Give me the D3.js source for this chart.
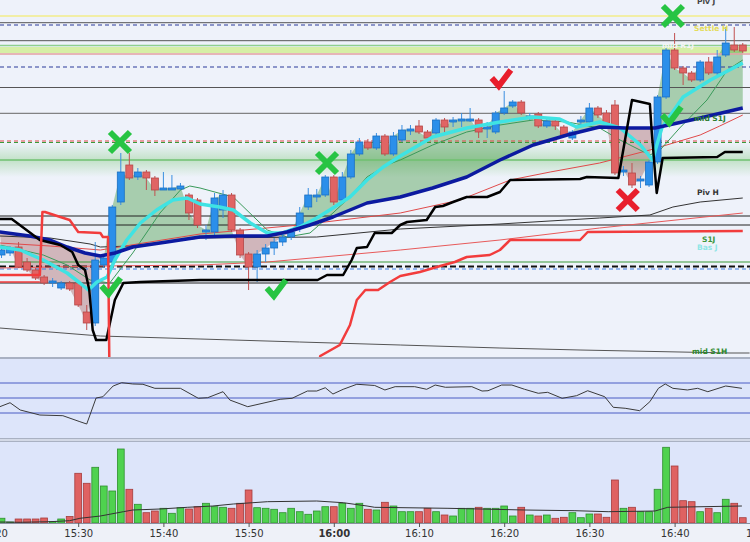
<!DOCTYPE html>
<html><head><meta charset="utf-8">
<script src="https://cdn.jsdelivr.net/npm/d3@7/dist/d3.min.js"></script>
<style>body{margin:0;background:#fff}svg{display:block}</style>
</head><body>
<svg id="c" width="750" height="542"></svg>
<script>
// ---------------- DATA ----------------
// candle minute offsets from 15:20
const candleT = d3.range(1, 89);
const openP  = [4745,4747,4753,4738,4730,4723,4717,4712,4717,4717,4688,4677,4735,4738,4798,4835,4823,4828,4822,4810,4810,4811,4805,4800,4768,4768,4790,4805,4770,4746,4733,4746,4752,4758,4763,4773,4793,4803,4805,4823,4800,4823,4846,4858,4852,4864,4846,4860,4869,4874,4868,4867,4880,4878,4879,4879,4880,4871,4868,4887,4894,4898,4882,4886,4874,4879,4873,4862,4878,4878,4892,4887,4895,4828,4827,4819,4815,4838,4903,4950,4932,4927,4920,4938,4927,4945,4955,4955];
const highP  = [4753,4754,4758,4742,4732,4725,4722,4719,4719,4718,4695,4758,4745,4795,4847,4847,4832,4830,4824,4828,4825,4817,4807,4802,4775,4807,4810,4807,4772,4748,4750,4756,4762,4767,4772,4793,4812,4811,4825,4825,4828,4850,4862,4861,4867,4866,4868,4875,4875,4880,4870,4882,4882,4883,4887,4892,4882,4878,4889,4909,4900,4900,4887,4888,4881,4881,4875,4870,4884,4897,4894,4890,4900,4834,4837,4824,4840,4905,4952,4967,4934,4929,4940,4943,4950,4973,4973,4957];
const lowP   = [4742,4744,4732,4728,4720,4715,4713,4710,4709,4693,4670,4674,4732,4735,4795,4820,4820,4810,4804,4810,4810,4810,4780,4772,4760,4765,4782,4768,4742,4710,4718,4738,4745,4754,4760,4768,4790,4798,4803,4795,4798,4821,4844,4850,4850,4844,4844,4858,4865,4866,4860,4865,4867,4873,4873,4878,4862,4862,4866,4885,4892,4885,4880,4872,4872,4870,4863,4860,4874,4876,4882,4875,4825,4824,4812,4812,4813,4836,4901,4930,4915,4918,4918,4925,4925,4943,4948,4947];
const closeP = [4750,4752,4733,4730,4722,4717,4719,4717,4711,4695,4677,4740,4742,4793,4828,4822,4828,4822,4810,4812,4812,4814,4787,4775,4770,4802,4805,4770,4745,4733,4746,4752,4758,4763,4768,4787,4805,4805,4823,4798,4823,4846,4858,4852,4864,4846,4864,4870,4871,4868,4862,4880,4873,4880,4881,4881,4868,4873,4887,4892,4898,4887,4884,4874,4879,4874,4865,4868,4880,4892,4885,4877,4827,4830,4815,4821,4838,4903,4950,4932,4927,4920,4938,4927,4943,4957,4950,4949];
const volume = [95,20,80,80,80,100,30,80,130,994,794,1114,740,640,1480,674,374,206,240,294,194,306,280,326,394,326,314,294,394,660,306,294,274,206,294,226,174,240,326,326,394,294,394,274,260,414,340,226,226,226,294,226,160,140,294,294,314,294,294,340,140,314,160,140,160,94,114,206,106,180,180,114,860,294,314,226,226,674,1514,1140,446,426,226,294,206,474,394,106];

// moving averages (minute, price)
const fastT = [0.8,3.2,5.9,8.7,10.2,11.2,12.2,13.4,14.3,15.7,17.3,19.2,21.1,22.8,24.3,26.6,28.2,30.2,32.2,34.0,36.0,38.0,39.9,41.9,43.9,45.8,47.8,51.6,55.6,59.5,63.4,66.5,68.5,71.2,73.6,76.0,77.4,78.5,81.0,84.2,88.0];
const fastV = [4753,4750,4740,4727,4717,4710,4718,4723,4740,4760,4777,4790,4800,4802,4796,4793,4790,4777,4767,4767,4773,4782,4792,4803,4820,4833,4844,4863,4872,4878,4883,4881,4873,4878,4872,4855,4840,4872,4903,4920,4937];
const slowT = [0.8,4.3,6.7,8.7,10.8,12.6,14.3,16.4,20.4,24.3,28.2,32.2,34.5,37.2,39.9,41.9,43.9,47.8,51.6,55.6,59.5,63.4,67.4,71.2,74.2,77.7,83.0,88.0];
const slowV = [4768,4764,4760,4753,4747,4744,4747,4753,4758,4763,4764,4764,4768,4775,4783,4790,4797,4803,4812,4823,4840,4855,4865,4873,4872,4872,4882,4892];
const midT = [0.8,5.9,8.7,11.4,13.7,16.4,19.6,22.0,23.1,24.3,28.2,32.2,34.5,37.2,39.9,41.9,43.9,46.2,47.8,51.6,55.6,59.5,63.4,67.4,71.2,73.6,77.1,78.3,80.6,83.8,86.2,88.0];
const midV = [4755,4745,4735,4720,4717,4747,4787,4810,4814,4812,4803,4770,4763,4767,4787,4803,4823,4835,4840,4855,4868,4875,4880,4878,4872,4860,4845,4850,4872,4900,4930,4940];
const longT = [0.8,6.7,12.6,18.4,24.3,36.0,47.8,54.8,60.7,65.4,71.2,77.1,83.0,85.3,88.0];
const longV = [4757,4754,4750,4758,4766,4775,4787,4800,4820,4828,4837,4850,4865,4874,4885];
const baseT = [0.8,12.6,24.3,32.2,47.8,59.5,71.2,88.0];
const baseV = [4732,4734,4735,4738,4750,4760,4772,4787];
const darkT = [0.8,6.7,11.4,12.6,16.1,24.3,38.0,47.8,59.5,71.2,77.1,79.8,83.0,88.0];
const darkV = [4764,4762,4756,4753,4754,4762,4763,4771,4776,4782,4785,4793,4798,4802];

// trailing stops (minute, price)
const stopBT = [0.8,2.2,5.5,7.9,9.3,10.0,10.8,11.3,11.7,12.1,13.3,14.3,15.3,17.3,24.3,38.1,39.2,41.1,42.1,42.7,43.9,44.8,46.8,47.8,48.6,50.9,51.9,52.8,54.0,55.6,58.0,59.5,60.7,68.9,69.7,73.4,75.0,77.1,77.3,77.9,78.6,85.0,85.9,88.0];
const stopBV = [4781,4781,4760,4755,4748,4735,4730,4710,4670,4660,4660,4700,4717,4718,4720,4720,4725,4725,4740,4752,4753,4767,4767,4775,4778,4780,4793,4794,4798,4803,4803,4808,4820,4821,4823,4822,4900,4896,4870,4807,4842,4843,4848,4848];
const stopRT = [0.8,5.5,5.8,6.1,7.9,9.0,10.0,12.6,12.9,13.5,13.7,38.1,38.4,40.7,41.9,42.7,43.7,45.2,46.6,47.8,50.1,52.5,54.2,55.6,58.3,59.5,60.7,68.9,69.8,88.0];
const stopRV = [4725,4725,4788,4788,4783,4780,4768,4767,4763,4763,4600,4600,4644,4655,4675,4700,4710,4710,4718,4724,4728,4734,4738,4743,4745,4750,4760,4760,4768,4769];
const stopR2T = [0.8,5.5];
const stopR2V = [4718,4718];
const midS1HT = [0.8,12.6,24.3,36.0,47.8,59.5,68.9,77.7,86.5,88.8];
const midS1HV = [4672,4664,4661,4658,4655,4652,4650,4648.5,4647,4647];

// oscillator (minute, value 0-100)
const oscT = [0.8,2.0,3.2,5.5,8.2,10.2,11.0,12.1,12.9,14.1,15.1,16.4,17.6,19.0,22.0,24.1,25.2,27.0,27.8,29.9,33.7,35.1,36.9,38.0,39.0,39.9,41.1,42.7,44.8,46.0,47.2,49.5,50.9,51.9,53.1,56.2,57.4,58.1,59.7,60.9,62.4,64.0,65.1,66.8,68.5,69.8,71.8,72.8,74.2,75.9,77.1,78.1,78.9,79.8,81.5,82.7,83.9,86.0,87.9];
const oscV = [38.4,43.7,34.0,27.3,26.4,18.4,15.3,50.0,51.7,66.0,70.4,68.7,68.3,62.9,62.9,49.6,50.4,58.4,47.3,38.4,48.3,49.6,59.3,59.3,63.7,55.3,61.6,68.3,66.7,60.7,65.1,65.1,61.6,67.3,64.3,65.1,59.3,59.7,67.3,67.3,61.6,56.3,57.6,49.6,53.1,59.7,51.7,37.6,36.3,33.1,45.1,62.9,68.7,62.9,60.7,62.9,58.4,66.0,62.9];
const oscLevels = [70, 50, 30];

// volume average (minute, volume)
const vmaT = [0.8,3.2,6.7,9.0,10.2,12.6,15.3,16.4,19.6,22.8,25.8,28.2,30.5,32.2,38.0,41.1,43.9,44.8,53.4,62.4,68.3,72.2,77.7,79.2,87.9];
const vmaV = [20,14,26,46,94,140,226,260,280,314,340,380,406,426,440,406,340,314,294,260,246,226,240,314,340];

// horizontal levels
const levelNames  = ["settleH","pivJ","r1Dash","r1","midR1Jtop","midR1Jbot","r1Dash2","lvl88","lvl113","redDash","greenDash","midS1J","lvl216","lvl225","s1J","basJDash","basJBlue","lvl283"];
const levelValues = [4984,4977.3,4975,4959.3,4954.5,4946,4933,4912.5,4886.7,4859,4857.5,4840,4784,4775,4738,4733.5,4731,4717];
const bandLow = 4947, bandHigh = 4953;

// labels on the right
const labelText  = ["Piv J","Settle H","mid R1J","mid S1J","Piv H","S1J","Bas J","mid S1H"];
const labelPrice = [4996,4969,4952,4879,4805,4758,4750,4646];

// signal markers
const markT = [14.9,39.2,79.8,74.5,13.8,33.2,79.6,59.6];
const markP = [4858,4837,4984,4800,4713,4711,4884,4921];
const markKind = ["x","x","x","x","check","check","check","check"];
const markSide = ["buy","buy","buy","sell","buy","buy","buy","sell"];

// ---------------- RENDER ----------------
const W = 750;
const base = new Date(2024,0,2,15,20,0);
const T = m => new Date(base.getTime() + m*60000);
const x = d3.scaleTime().domain([T(0.8216), T(88.85)]).range([0, W]);
const yP = d3.scaleLinear().domain([4643, 5000]).range([357, 0]);
const yO = d3.scaleLinear().domain([0, 100]).range([435.5, 360.5]);
const yV = d3.scaleLinear().domain([0, 1620]).range([523, 442]);

const svg = d3.select("#c");
const defs = svg.append("defs");
defs.append("clipPath").attr("id","mainClip").append("rect").attr("width",W).attr("height",357);
const gr = defs.append("linearGradient").attr("id","gband").attr("x1",0).attr("x2",0).attr("y1",0).attr("y2",1);
gr.append("stop").attr("offset","0%").attr("stop-color","#9fd49f").attr("stop-opacity",0);
gr.append("stop").attr("offset","50%").attr("stop-color","#9fd49f").attr("stop-opacity",0.55);
gr.append("stop").attr("offset","100%").attr("stop-color","#9fd49f").attr("stop-opacity",0);

svg.append("rect").attr("width",W).attr("height",357).attr("fill","#eef2fa");
svg.append("rect").attr("y",357).attr("width",W).attr("height",2).attr("fill","#a9b1c2");
svg.append("rect").attr("y",359).attr("width",W).attr("height",79).attr("fill","#dde5fa");
svg.append("rect").attr("y",438).attr("width",W).attr("height",4).attr("fill","#d3d9e6");
svg.append("line").attr("x1",0).attr("x2",W).attr("y1",438.5).attr("y2",438.5).attr("stroke","#a9b1c2");
svg.append("line").attr("x1",0).attr("x2",W).attr("y1",441.5).attr("y2",441.5).attr("stroke","#a9b1c2");
svg.append("rect").attr("y",442).attr("width",W).attr("height",81).attr("fill","#dde5fa");
svg.append("rect").attr("y",523).attr("width",W).attr("height",19).attr("fill","#eef1f8");

const main = svg.append("g").attr("clip-path","url(#mainClip)");

// bands
main.append("rect").attr("x",0).attr("width",W).attr("y",yP(4840+17)).attr("height",yP(4840-17)-yP(4840+17)).attr("fill","url(#gband)");
main.append("rect").attr("x",0).attr("width",W).attr("y",yP(bandHigh)).attr("height",yP(bandLow)-yP(bandHigh)).attr("fill","#d6efa6");

// fill between close and slow MA
const pt = (t,v) => [x(T(t)), yP(v)];
const closePts = candleT.map((t,i)=>pt(t,closeP[i]));
const slowPts = slowT.map((t,i)=>pt(t,slowV[i]));
const poly = closePts.concat(slowPts.slice().reverse());
const polyD = "M" + poly.map(p=>p.join(",")).join("L") + "Z";
const aboveD = "M" + slowPts.map(p=>p.join(",")).join("L") + `L${slowPts[slowPts.length-1][0]+20},-20L${slowPts[0][0]-20},-20Z`;
const belowD = "M" + slowPts.map(p=>p.join(",")).join("L") + `L${slowPts[slowPts.length-1][0]+20},400L${slowPts[0][0]-20},400Z`;
defs.append("clipPath").attr("id","above").append("path").attr("d",aboveD);
defs.append("clipPath").attr("id","below").append("path").attr("d",belowD);
main.append("path").attr("d",polyD).attr("fill","rgb(60,150,60)").attr("fill-opacity",0.4).attr("fill-rule","evenodd").attr("clip-path","url(#above)");
main.append("path").attr("d",polyD).attr("fill","rgb(150,60,60)").attr("fill-opacity",0.33).attr("fill-rule","evenodd").attr("clip-path","url(#below)");

// levels
const levelStyle = {
  settleH:["#f2ec8a",1.5,null], pivJ:["#555",1,null], r1Dash:["#2a3a9a",1,"4,3"], r1:["#555",1,null],
  midR1Jtop:["#8fd08f",1.5,null], midR1Jbot:["#e3a0a0",1.5,null], r1Dash2:["#2a3a9a",1,"4,3"],
  lvl88:["#555",1,null], lvl113:["#666",1,null], redDash:["#e04848",1,"4,3"], greenDash:["#3a9a3a",1,"4,3"],
  midS1J:["#70c070",1.5,null], lvl216:["#222",1,null], lvl225:["#222",1,null], s1J:["#3a9a3a",1,null],
  basJDash:["#111",2,"6,3"], basJBlue:["#3a7ae0",1,"4,3"], lvl283:["#222",1,null]
};
levelNames.forEach((n,i)=>{
  const s = levelStyle[n];
  const l = main.append("line").attr("x1",0).attr("x2",W).attr("y1",yP(levelValues[i])).attr("y2",yP(levelValues[i]))
    .attr("stroke",s[0]).attr("stroke-width",s[1]);
  if (s[2]) l.attr("stroke-dasharray",s[2]);
});

const line = d3.line().x(d=>x(T(d[0]))).y(d=>yP(d[1]));
const zip = (a,b)=>a.map((t,i)=>[t,b[i]]);
const drawLine = (g,ts,vs,color,w)=>g.append("path").attr("d",line(zip(ts,vs))).attr("fill","none").attr("stroke",color).attr("stroke-width",w).attr("stroke-linejoin","round");

drawLine(main,midS1HT,midS1HV,"#555",1);
drawLine(main,baseT,baseV,"#e85a5a",1);
drawLine(main,darkT,darkV,"#333",1);
drawLine(main,longT,longV,"#e04a4a",1);
drawLine(main,midT,midV,"#3a9a5a",1);

// candles
const cg = main.append("g");
candleT.forEach((t,i)=>{
  const up = closeP[i] >= openP[i];
  const cx = x(T(t));
  const stroke = up ? "#1b6fc2" : "#b44848";
  const fill = up ? "#2b8fea" : "#e06464";
  cg.append("line").attr("x1",cx).attr("x2",cx).attr("y1",yP(highP[i])).attr("y2",yP(lowP[i])).attr("stroke",up?"#3a8ee0":"#c05050").attr("stroke-width",1);
  const y1 = yP(Math.max(openP[i],closeP[i])), y2 = yP(Math.min(openP[i],closeP[i]));
  cg.append("rect").attr("x",cx-3.5).attr("width",7).attr("y",y1).attr("height",Math.max(1,y2-y1)).attr("fill",fill).attr("stroke",stroke).attr("stroke-width",0.8);
});

drawLine(main,fastT,fastV,"#3fe3e3",3.5);
drawLine(main,slowT,slowV,"#0c1aa0",3.5);
drawLine(main,stopBT,stopBV,"#000",2.5);
drawLine(main,stopRT,stopRV,"#f23c3c",2.5);
drawLine(main,stopR2T,stopR2V,"#f23c3c",1.5);

// labels
const labelColor = {"Piv J":"#444","Settle H":"#e4dc5a","mid R1J":"#f4f6f4","mid S1J":"#2e7d32","Piv H":"#333","S1J":"#3c963c","Bas J":"#8ee6e6","mid S1H":"#2e8b2e"};
const labelX = {"Piv J":697,"Settle H":694,"mid R1J":662,"mid S1J":694,"Piv H":697,"S1J":702,"Bas J":697,"mid S1H":692};
labelText.forEach((t,i)=>{
  svg.append("text").attr("x",labelX[t]).attr("y",yP(labelPrice[i]))
    .attr("font-family","DejaVu Sans, Verdana, sans-serif").attr("font-size",7.5).attr("font-weight","bold")
    .attr("fill",labelColor[t]).text(t);
});

// markers
markT.forEach((t,i)=>{
  const cx = x(T(t)), cy = yP(markP[i]);
  const col = markSide[i]==="buy" ? "#27c443" : "#e81e2c";
  const g = svg.append("g").attr("stroke",col).attr("stroke-width",6).attr("fill","none");
  if (markKind[i]==="x") {
    const s = 10;
    g.append("line").attr("x1",cx-s).attr("y1",cy-s).attr("x2",cx+s).attr("y2",cy+s);
    g.append("line").attr("x1",cx-s).attr("y1",cy+s).attr("x2",cx+s).attr("y2",cy-s);
  } else {
    g.append("path").attr("d",`M${cx-9},${cy-1}L${cx-2},${cy+7}L${cx+10},${cy-9}`).attr("stroke-linejoin","miter");
  }
});

// oscillator
oscLevels.forEach(v=>svg.append("line").attr("x1",0).attr("x2",W).attr("y1",yO(v)).attr("y2",yO(v)).attr("stroke","#4b5cc4").attr("stroke-width",1));
svg.append("path").attr("d",d3.line().x(d=>x(T(d[0]))).y(d=>yO(d[1]))(zip(oscT,oscV))).attr("fill","none").attr("stroke","#3a3a3a").attr("stroke-width",1);

// volume
candleT.forEach((t,i)=>{
  const up = closeP[i] >= openP[i];
  const cx = x(T(t));
  svg.append("rect").attr("x",cx-3.4).attr("width",6.8).attr("y",yV(volume[i])).attr("height",523-yV(volume[i]))
    .attr("fill",up?"#4fd24f":"#df6262").attr("stroke",up?"#2f8f2f":"#a53c3c").attr("stroke-width",0.8);
});
svg.append("path").attr("d",d3.line().x(d=>x(T(d[0]))).y(d=>yV(d[1]))(zip(vmaT,vmaV))).attr("fill","none").attr("stroke","#333").attr("stroke-width",1);

// axis
svg.append("line").attr("x1",0).attr("x2",W).attr("y1",523.5).attr("y2",523.5).attr("stroke","#8a90a0");
const ax = svg.append("g").attr("transform","translate(0,523)")
  .call(d3.axisBottom(x).tickValues(d3.timeMinute.range(T(0),T(91),10)).tickFormat(d3.timeFormat("%H:%M")).tickSize(4).tickPadding(3));
ax.select(".domain").remove();
ax.selectAll("line").attr("stroke","#555");
ax.selectAll("text").attr("font-family","DejaVu Sans, Verdana, sans-serif").attr("font-size",10).attr("fill","#333")
  .attr("font-weight",d=>d.getHours()===16&&d.getMinutes()===0?"bold":"normal");
</script>
</body></html>
